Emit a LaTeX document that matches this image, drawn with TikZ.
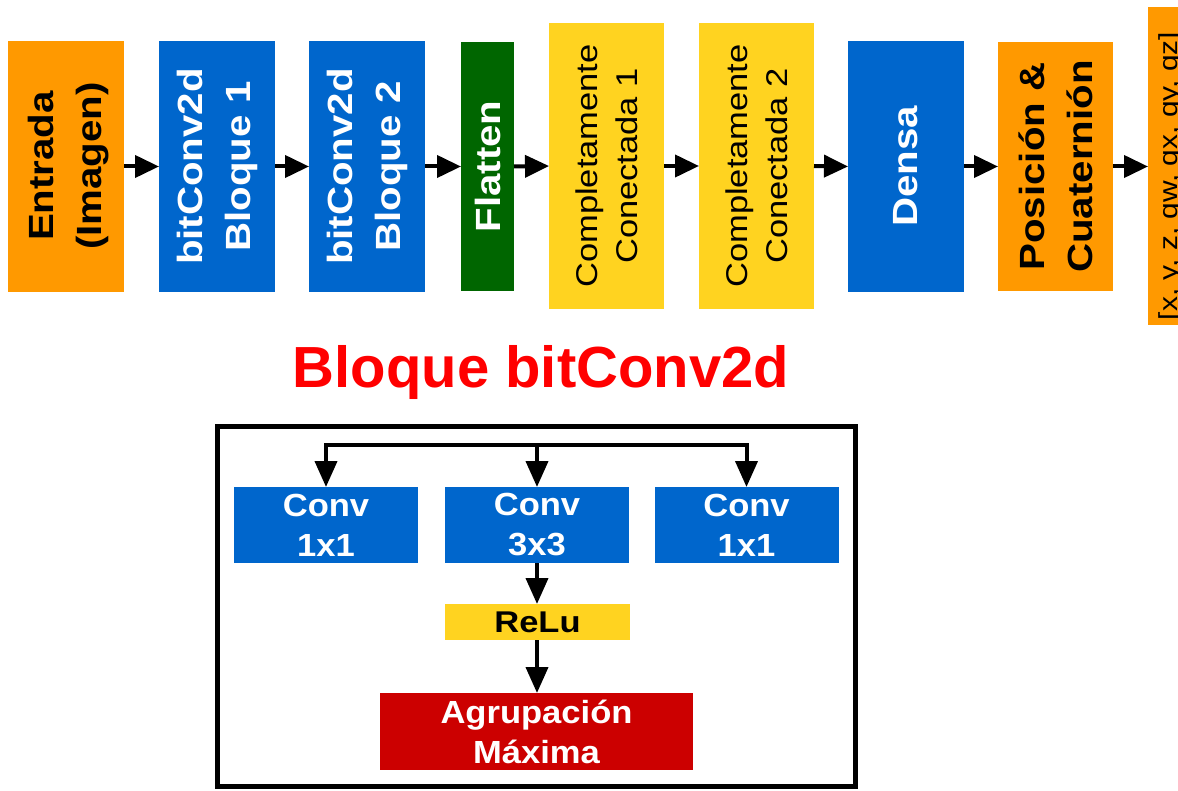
\documentclass[tikz,border=0pt]{standalone}
\usepackage{fontspec}
\setmainfont{Liberation Sans}
\newfontfamily\strfont{Liberation Sans}[FakeStretch=1.15]
\newfontfamily\midfont{Liberation Sans}[FakeStretch=1.08]
\usetikzlibrary{arrows.meta,calc}
\definecolor{orng}{HTML}{FF9900}
\definecolor{blu}{HTML}{0066CC}
\definecolor{grn}{HTML}{006600}
\definecolor{yel}{HTML}{FFD320}
\definecolor{dred}{HTML}{CC0000}
\definecolor{tred}{HTML}{FF0000}
\tikzset{
  blk/.style={draw=none,inner sep=0pt,outer sep=0pt},
  topbox/.style={blk,minimum width=116pt,minimum height=251pt},
  rtxt/.style={rotate=90,align=center,inner sep=0pt,font=\strfont\bfseries\fontsize{35}{48}\selectfont},
  ytxt/.style={rotate=90,align=center,inner sep=0pt,font=\strfont\fontsize{30}{40}\selectfont},
  arr/.style={line width=4pt,-{Triangle[length=24pt,width=22pt]}},
  darr/.style={line width=4pt,-{Triangle[length=26pt,width=22pt]}},
  smallbox/.style={blk,minimum width=184pt,minimum height=76pt,fill=blu,text=white,align=center,font=\midfont\bfseries\fontsize{32}{40}\selectfont},
}
\begin{document}
\begin{tikzpicture}[x=1pt,y=-1pt]
\useasboundingbox (0,0) rectangle (1178,791);
\clip (0,0) rectangle (1178,791);
\fill[white] (0,0) rectangle (1178,791);
% top row boxes
\node[topbox,fill=orng] (in) at (66,166.5) {};
\node[topbox,fill=blu] (b1) at (217,166.5) {};
\node[topbox,fill=blu] (b2) at (367,166.5) {};
\node[blk,fill=grn,minimum width=53pt,minimum height=249pt] (fl) at (487.5,166.5) {};
\node[blk,fill=yel,minimum width=115pt,minimum height=286pt] (fc1) at (606.5,166) {};
\node[blk,fill=yel,minimum width=115pt,minimum height=286pt] (fc2) at (756.5,166) {};
\node[topbox,fill=blu] (de) at (906,166.5) {};
\node[blk,fill=orng,minimum width=115pt,minimum height=249pt] (pq) at (1055.5,166.5) {};
\node[blk,fill=orng,minimum width=62pt,minimum height=318pt] (out) at (1179,166) {};
% texts
\node[rtxt,text=black] (tin) at (69,166) {Entrada\\(Imagen)};
\node[rtxt,text=white] (tb1) at (b1) {bitConv2d\\Bloque 1};
\node[rtxt,text=white] (tb2) at (b2) {bitConv2d\\Bloque 2};
\node[rtxt,text=white] (tfl) at (fl) {Flatten};
\node[ytxt,text=black] (tfc1) at (fc1) {Completamente\\Conectada 1};
\node[ytxt,text=black] (tfc2) at (fc2) {Completamente\\Conectada 2};
\node[rtxt,text=white] (tde) at (de) {Densa};
\node[rtxt,text=black] (tpq) at (pq) {Posición \&\\Cuaternión};
\node[rotate=90,anchor=base,inner sep=0pt,font=\strfont\fontsize{26}{30}\selectfont] (tout) at (1177,176) {[x, y, z, qw, qx, qy, qz]};
% top arrows
\draw[arr] (in.east) -- (b1.west);
\draw[arr] (b1.east) -- (b2.west);
\draw[arr] (b2.east) -- (fl.west);
\draw[arr] (fl.east) -- (fc1.west);
\draw[arr] (fc1.east) -- (fc2.west);
\draw[arr] (fc2.east) -- (de.west);
\draw[arr] (de.east) -- (pq.west);
\draw[arr] (pq.east) -- (pq.east -| out.west);
% title
\node[anchor=base,inner sep=0pt,text=tred,font=\bfseries\fontsize{58}{60}\selectfont] (ttl) at (541,388) {Bloque bitConv2d};
% frame
\node[draw=black,line width=5pt,inner sep=0pt,minimum width=638pt,minimum height=360pt] (frm) at (536.5,606.5) {};
% bottom block
\node[smallbox] (c1) at (326,525) {Conv\\1x1};
\node[smallbox] (c2) at (537,525) {Conv\\3x3};
\node[smallbox] (c3) at (746.5,525) {Conv\\1x1};
\node[blk,fill=yel,minimum width=185pt,minimum height=36pt,font=\strfont\bfseries\fontsize{30}{36}\selectfont] (relu) at (537.5,622) {ReLu};
\node[blk,fill=dred,minimum width=313pt,minimum height=77pt,text=white,align=center,font=\midfont\bfseries\fontsize{32}{40}\selectfont] (agr) at (536.5,731.5) {Agrupación\\Máxima};
\coordinate (split) at (537,445);
\draw[darr] (split) -| (c1.north);
\draw[darr] (split) -| (c3.north);
\draw[darr] (split) -- (c2.north);
\draw[darr] (c2.south) -- (c2.south |- relu.north);
\draw[darr] (relu.south -| c2.south) -- (agr.north -| c2.south);
\end{tikzpicture}
\end{document}
